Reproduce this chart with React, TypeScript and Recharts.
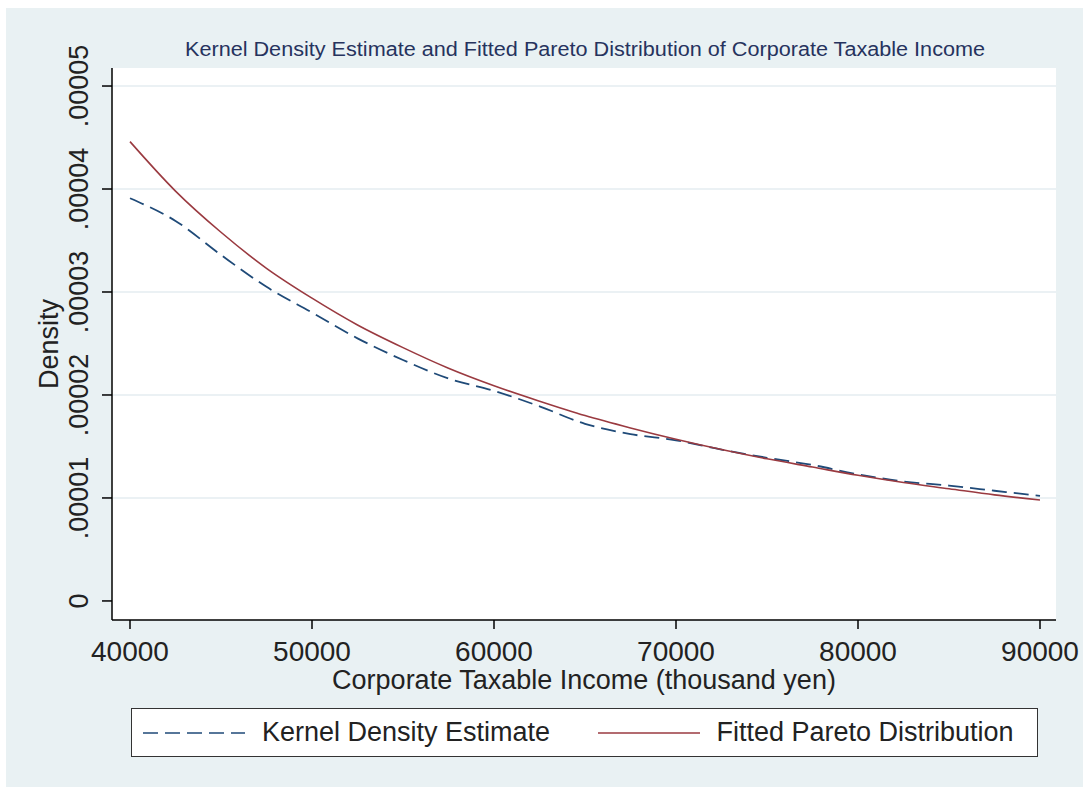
import {
  LineChart,
  Line,
  XAxis,
  YAxis,
  Legend,
  Label,
  ReferenceLine,
  CartesianGrid,
} from "recharts";

// readings, density per thousand yen
const income = [
  40000, 42500, 45000, 47500, 50000, 52500, 55000, 57500, 60000, 62500, 65000,
  67500, 70000, 72500, 75000, 77500, 80000, 82500, 85000, 87500, 90000,
];
const kernelDensity = [
  3.91e-5, 3.69e-5, 3.36e-5, 3.05e-5, 2.8e-5, 2.55e-5, 2.34e-5, 2.16e-5,
  2.04e-5, 1.89e-5, 1.72e-5, 1.62e-5, 1.56e-5, 1.47e-5, 1.39e-5, 1.32e-5,
  1.23e-5, 1.16e-5, 1.12e-5, 1.07e-5, 1.02e-5,
];
const paretoFit = [
  4.46e-5, 3.98e-5, 3.58e-5, 3.23e-5, 2.94e-5, 2.68e-5, 2.46e-5, 2.26e-5,
  2.09e-5, 1.94e-5, 1.8e-5, 1.68e-5, 1.57e-5, 1.47e-5, 1.38e-5, 1.3e-5,
  1.22e-5, 1.15e-5, 1.09e-5, 1.03e-5, 0.98e-5,
];
const seriesOrder = ["kernel", "pareto"];
const xTicks = [40000, 50000, 60000, 70000, 80000, 90000];
const yTicks = [0, 0.00001, 0.00002, 0.00003, 0.00004, 0.00005];

const data = income.map((x, i) => ({
  income: x,
  kernel: kernelDensity[i],
  pareto: paretoFit[i],
}));

const FONT = '"Liberation Sans", Arial, sans-serif';
const BG = "#e9f1f3";
const NAVY = "#1f4a78";
const MAROON = "#9a3a40";

const fmtY = (v: number) => (v === 0 ? "0" : v.toFixed(5).replace(/^0\./, "."));

const XTick = (props: any) => {
  const { x, y, payload } = props;
  return (
    <text x={x} y={y + 30} textAnchor="middle" fontSize={28} fill="#222" fontFamily={FONT}>
      {payload.value}
    </text>
  );
};

const YTick = (props: any) => {
  const { x, y, payload } = props;
  const tx = x - 12;
  return (
    <text
      x={tx}
      y={y}
      textAnchor="middle"
      fontSize={27}
      fill="#222"
      fontFamily={FONT}
      transform={`rotate(-90, ${tx}, ${y})`}
    >
      {fmtY(payload.value)}
    </text>
  );
};

const LegendBox = (props: any) => {
  const items = [...(props.payload || [])].sort(
    (a: any, b: any) => seriesOrder.indexOf(a.dataKey) - seriesOrder.indexOf(b.dataKey)
  );
  return (
    <div
      style={{
        boxSizing: "border-box",
        width: 907,
        height: 49,
        background: "#fff",
        border: "1.5px solid #333",
        display: "flex",
        alignItems: "center",
        fontFamily: FONT,
        fontSize: 27,
        color: "#222",
      }}
    >
      {items.map((it: any, i: number) => (
        <div
          key={i}
          style={{ width: "50%", display: "flex", alignItems: "center", paddingLeft: i === 0 ? 11 : 15 }}
        >
          <svg width={102} height={10} style={{ marginRight: 17 }}>
            <line
              x1={0}
              y1={5}
              x2={102}
              y2={5}
              stroke={it.color}
              strokeWidth={1.5}
              strokeDasharray={it.dataKey === "kernel" ? "15 7" : undefined}
            />
          </svg>
          <span>{it.value}</span>
        </div>
      ))}
    </div>
  );
}

export default function App() {
  return (
    <div
      style={{
        position: "absolute",
        left: 6,
        top: 8,
        width: 1077,
        height: 779,
        background: BG,
      }}
    >
      <svg width={1077} height={60} style={{ position: "absolute", left: 0, top: 0 }}>
        <text
          x={579}
          y={48}
          textAnchor="middle"
          fontSize={20}
          fill="#26335e"
          fontFamily={FONT}
          textLength={800}
          lengthAdjust="spacingAndGlyphs"
        >
          Kernel Density Estimate and Fitted Pareto Distribution of Corporate Taxable Income
        </text>
      </svg>
      <LineChart
        width={1077}
        height={779}
        data={data}
        margin={{ top: 60, right: 27, left: 0, bottom: 107 }}
      >
        <CartesianGrid fill="#fff" stroke="none" />
        {yTicks.slice(1).map((t) => (
          <ReferenceLine key={t} y={t} stroke="#e4edf0" strokeWidth={1.5} />
        ))}
        <XAxis
          dataKey="income"
          type="number"
          domain={[39011, 90879]}
          ticks={xTicks}
          allowDataOverflow
          height={60}
          tickSize={9}
          axisLine={{ stroke: "#000", strokeWidth: 1.5 }}
          tickLine={{ stroke: "#000", strokeWidth: 1.5 }}
          tick={<XTick />}
        >
          <Label
            content={(p: any) => {
              const vb = p.viewBox;
              return (
                <text
                  x={vb.x + vb.width / 2}
                  y={vb.y + 69}
                  textAnchor="middle"
                  fontSize={27}
                  fill="#222"
                  fontFamily={FONT}
                >
                  Corporate Taxable Income (thousand yen)
                </text>
              );
            }}
          />
        </XAxis>
        <YAxis
          type="number"
          domain={[-0.00000185, 0.00005175]}
          ticks={yTicks}
          allowDataOverflow
          width={106}
          tickSize={10}
          axisLine={{ stroke: "#000", strokeWidth: 1.5 }}
          tickLine={{ stroke: "#000", strokeWidth: 1.5 }}
          tick={<YTick />}
        >
          <Label
            content={(p: any) => {
              const vb = p.viewBox;
              const cy = vb.y + vb.height / 2;
              return (
                <text
                  x={52}
                  y={cy}
                  textAnchor="middle"
                  fontSize={27}
                  fill="#222"
                  fontFamily={FONT}
                  transform={`rotate(-90, 52, ${cy})`}
                >
                  Density
                </text>
              );
            }}
          />
        </YAxis>
        <Line
          type="monotone"
          dataKey="kernel"
          name="Kernel Density Estimate"
          stroke={NAVY}
          strokeWidth={1.8}
          strokeDasharray="15 7"
          dot={false}
          isAnimationActive={false}
        />
        <Line
          type="monotone"
          dataKey="pareto"
          name="Fitted Pareto Distribution"
          stroke={MAROON}
          strokeWidth={1.6}
          dot={false}
          isAnimationActive={false}
        />
        <Legend
          layout="horizontal"
          verticalAlign="middle"
          align="center"
          content={<LegendBox />}
          wrapperStyle={{ left: 125, top: 700, width: 907, height: 49 }}
        />
      </LineChart>
    </div>
  );
}
